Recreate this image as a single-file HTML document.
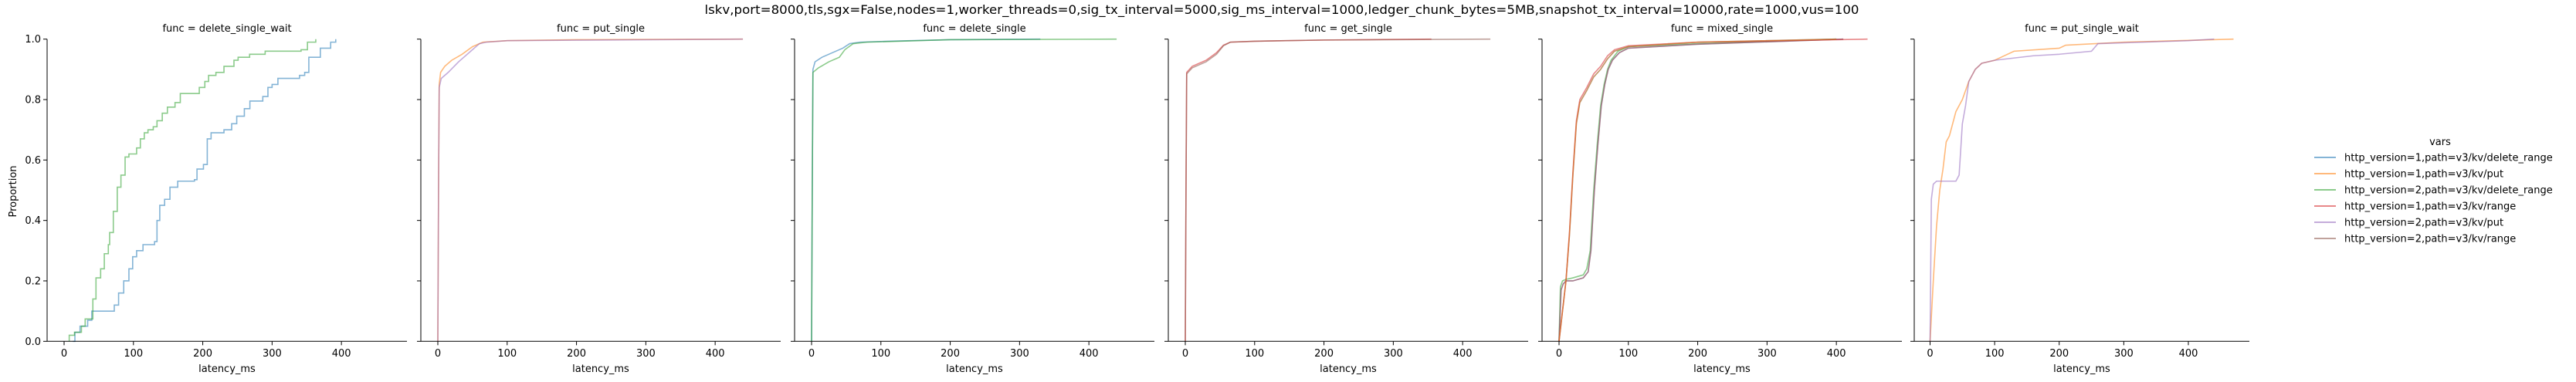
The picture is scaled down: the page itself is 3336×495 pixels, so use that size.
<!DOCTYPE html>
<html><head><meta charset="utf-8">
<style>
html,body{margin:0;padding:0;background:#fff;}
svg{display:block;}
text{font-family:"DejaVu Sans","Liberation Sans",sans-serif;fill:#000;}
</style></head>
<body>
<svg id="chart" width="3336" height="495" viewBox="0 0 3336 495" xmlns="http://www.w3.org/2000/svg">
<text x="1660" y="18" font-size="16" text-anchor="middle" textLength="1495" lengthAdjust="spacingAndGlyphs">lskv,port=8000,tls,sgx=False,nodes=1,worker_threads=0,sig_tx_interval=5000,sig_ms_interval=1000,ledger_chunk_bytes=5MB,snapshot_tx_interval=10000,rate=1000,vus=100</text>
<text transform="translate(21,248) rotate(-90)" font-size="13" text-anchor="middle">Proportion</text>
<g id="panels"></g>
<g id="legend"></g>
</svg>
<script>
const seriesNames = ["http_version=1,path=v3/kv/delete_range","http_version=1,path=v3/kv/put","http_version=2,path=v3/kv/delete_range","http_version=1,path=v3/kv/range","http_version=2,path=v3/kv/put","http_version=2,path=v3/kv/range"];
const seriesColors = ["#1f77b4","#ff7f0e","#2ca02c","#d62728","#9467bd","#8c564b"];
const panelTitles = ["delete_single_wait","put_single","delete_single","get_single","mixed_single","put_single_wait"];
const xTicks = [0,100,200,300,400];
const yTicks = [0,0.2,0.4,0.6,0.8,1.0];
const yTickLabels = ["0.0","0.2","0.4","0.6","0.8","1.0"];

// panel 1 step data [latency, proportion]
const p1Blue = [[12.6,0],[15.6,0.03],[23,0.05],[34,0.07],[40,0.1],[64.9,0.1],[72.4,0.12],[78.6,0.16],[86,0.2],[93.5,0.24],[98.9,0.28],[104.6,0.3],[113.8,0.32],[130.5,0.33],[134,0.4],[138,0.45],[145,0.47],[152.7,0.51],[163.9,0.53],[188,0.535],[191.7,0.57],[201,0.585],[206.5,0.67],[212,0.69],[230.6,0.7],[241.7,0.72],[249,0.745],[260,0.77],[268,0.795],[286.6,0.81],[294,0.84],[300,0.85],[308.4,0.87],[339.6,0.88],[347,0.89],[353,0.94],[367,0.94],[369.6,0.97],[380.8,0.97],[384.5,0.99],[391.8,1.0]];
const p1Green = [[7.4,0],[7.4,0.02],[15,0.03],[25,0.05],[30.4,0.074],[41.5,0.14],[46,0.21],[52.7,0.24],[58,0.29],[63.8,0.32],[65.7,0.36],[71,0.43],[76.7,0.51],[82,0.55],[88,0.61],[93.5,0.62],[104.6,0.64],[110,0.67],[115.7,0.69],[121,0.7],[128.6,0.71],[134,0.73],[141.6,0.755],[149,0.775],[160,0.79],[167.6,0.82],[193.5,0.82],[195,0.84],[203,0.86],[208.4,0.88],[219,0.89],[230.6,0.91],[245,0.93],[251,0.94],[267.6,0.95],[290,0.96],[341.8,0.965],[351,0.99],[363,1.0]];
// smooth ECDFs
const p2Orange = [[0,0],[1,0.5],[2,0.85],[4,0.89],[10,0.91],[20,0.93],[35,0.95],[50,0.975],[65,0.99],[100,0.995],[200,0.998],[440,1.0]];
const p2Purple = [[0,0],[1,0.5],[2,0.84],[5,0.87],[15,0.89],[30,0.925],[50,0.965],[60,0.985],[70,0.99],[100,0.995],[440,1.0]];
const p3Blue = [[0,0],[1,0.5],[2,0.9],[5,0.925],[15,0.94],[30,0.955],[45,0.97],[55,0.985],[70,0.99],[110,0.993],[200,0.998],[330,1.0]];
const p3Green = [[0,0],[1,0.5],[2,0.89],[10,0.905],[25,0.925],[40,0.94],[48,0.965],[60,0.985],[80,0.99],[200,0.998],[440,1.0]];
const p4Red = [[0,0],[1,0.5],[2,0.89],[10,0.91],[30,0.93],[45,0.955],[55,0.98],[65,0.99],[100,0.993],[200,0.997],[355,1.0]];
const p4Brown = [[0,0],[1,0.5],[2,0.885],[10,0.905],[30,0.925],[45,0.95],[55,0.978],[65,0.99],[100,0.993],[200,0.997],[440,1.0]];
const p5Fast = [[0,0],[5,0.1],[10,0.2],[15,0.35],[20,0.55],[25,0.72],[30,0.79],[40,0.83],[50,0.875],[60,0.9],[70,0.935],[80,0.96],[100,0.975],[200,0.99],[400,1.0]];
const p5FastB = [[0,0],[5,0.1],[10,0.2],[15,0.36],[20,0.56],[25,0.73],[30,0.8],[40,0.84],[50,0.885],[60,0.91],[70,0.945],[80,0.965],[100,0.978],[200,0.99],[445,1.0]];
const p5Slow = [[0,0],[2,0.18],[5,0.2],[10,0.205],[20,0.21],[35,0.22],[40,0.24],[45,0.3],[50,0.5],[55,0.65],[60,0.78],[65,0.85],[70,0.9],[75,0.93],[85,0.96],[100,0.975],[200,0.985],[400,1.0]];
const p5SlowB = [[0,0],[3,0.17],[6,0.19],[10,0.2],[20,0.2],[35,0.21],[42,0.23],[46,0.3],[51,0.5],[56,0.65],[61,0.78],[66,0.85],[71,0.9],[77,0.93],[87,0.955],[100,0.97],[200,0.983],[410,1.0]];
const p6Orange = [[0,0],[5,0.2],[10,0.38],[15,0.5],[20,0.57],[25,0.66],[30,0.68],[40,0.76],[50,0.8],[60,0.86],[70,0.9],[80,0.92],[100,0.93],[110,0.94],[130,0.96],[200,0.97],[210,0.98],[300,0.99],[470,1.0]];
const p6Purple = [[0,0],[2,0.47],[5,0.52],[10,0.53],[40,0.53],[45,0.55],[50,0.72],[55,0.78],[60,0.86],[70,0.9],[80,0.92],[100,0.93],[160,0.945],[200,0.95],[250,0.96],[260,0.985],[400,0.995],[440,1.0]];

const panelSeries = [
  [[0,p1Blue,true],[2,p1Green,true]],
  [[1,p2Orange,false],[4,p2Purple,false]],
  [[0,p3Blue,false],[2,p3Green,false]],
  [[3,p4Red,false],[5,p4Brown,false]],
  [[2,p5Slow,false],[4,p5SlowB,false],[5,p5SlowB,false],[0,p5Fast,false],[3,p5FastB,false],[1,p5Fast,false]],
  [[1,p6Orange,false],[4,p6Purple,false]]
];

const NS="http://www.w3.org/2000/svg";
const XMIN=-24.5, XMAX=494.5, YTOP=50.7, YBOT=442.3;
const panelLeft=[61,545,1029,1513,1997,2479];
const panelWidth=[466,466,466,466,466,434];
function mk(tag,attrs,parent){const e=document.createElementNS(NS,tag);for(const k in attrs)e.setAttribute(k,attrs[k]);parent.appendChild(e);return e;}
const root=document.getElementById('panels');
for(let p=0;p<6;p++){
  const L=panelLeft[p], W=panelWidth[p];
  const xs=v=>L+(v-XMIN)/(XMAX-XMIN)*W;
  const ys=v=>YBOT-v*(YBOT-YTOP);
  const g=mk('g',{},root);
  
  
  const t=mk('text',{x:L+W/2,y:41,'font-size':13,'text-anchor':'middle'},g);
  t.textContent='func = '+panelTitles[p];
  
  
  // series
  panelSeries[p].forEach(([ci,data,step])=>{
    let d='';
    data.forEach((pt,i)=>{
      if(i===0){d+='M'+xs(pt[0]).toFixed(2)+' '+ys(pt[1]).toFixed(2);}
      else if(step){d+=' H'+xs(pt[0]).toFixed(2)+' V'+ys(pt[1]).toFixed(2);}
      else{d+=' L'+xs(pt[0]).toFixed(2)+' '+ys(pt[1]).toFixed(2);}
    });
    const path=mk('path',{d:d,fill:'none',stroke:seriesColors[ci],'stroke-width':1.6,'stroke-opacity':0.55},g);
    
    
  });
  // axes
  const ya=mk('line',{x1:L,x2:L,y1:YTOP,y2:YBOT,stroke:'#000','stroke-width':1},g);
  
  
  const xa=mk('line',{x1:L,x2:L+W,y1:YBOT,y2:YBOT,stroke:'#000','stroke-width':1},g);
  
  
  yTicks.forEach((v,i)=>{
    mk('line',{x1:L-5,x2:L,y1:ys(v),y2:ys(v),stroke:'#000','stroke-width':1},g);
    if(p===0){
      const tl=mk('text',{x:L-8,y:ys(v)+4.5,'font-size':13,'text-anchor':'end'},g);
      tl.textContent=yTickLabels[i];
      
      
    }
  });
  xTicks.forEach(v=>{
    mk('line',{x1:xs(v),x2:xs(v),y1:YBOT,y2:YBOT+5,stroke:'#000','stroke-width':1},g);
    const tl=mk('text',{x:xs(v),y:462,'font-size':13,'text-anchor':'middle'},g);
    tl.textContent=String(v);
    
    
  });
  const xl=mk('text',{x:L+W/2,y:482,'font-size':13,'text-anchor':'middle'},g);
  xl.textContent='latency_ms';
  
  
}
const lg=document.getElementById('legend');
const lt=mk('text',{x:3160,y:188,'font-size':13,'text-anchor':'middle'},lg);
lt.textContent='vars';


seriesNames.forEach((n,i)=>{
  const y=204+i*21;
  const ge=mk('g',{},lg);
  
  
  mk('line',{x1:2997,x2:3025,y1:y,y2:y,stroke:seriesColors[i],'stroke-width':2,'stroke-opacity':0.55},ge);
  const tx=mk('text',{x:3036,y:y+4.5,'font-size':13},ge);
  tx.textContent=n;
});
</script>
</body></html>
